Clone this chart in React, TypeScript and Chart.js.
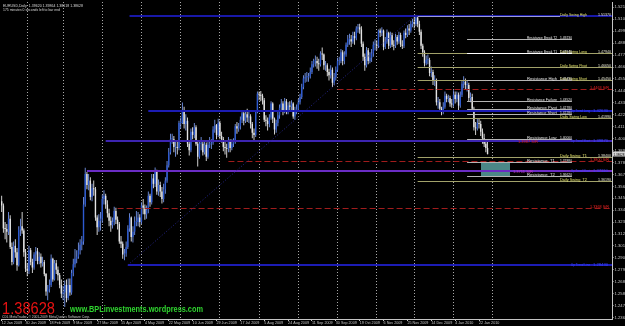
import React, { useEffect, useRef } from "react";
import { Chart, registerables } from "chart.js";
Chart.register(...registerables);

// ---------------- DATA ----------------
const firstOpen = 1.343;
const closes = [
  1.3390, 1.3180, 1.3175, 1.3150, 1.3270, 1.3010, 1.2870, 1.3020, 1.2960, 1.2840,
  1.3170, 1.3200, 1.3160, 1.2960, 1.2810, 1.2790, 1.2980, 1.2870, 1.2820, 1.2940,
  1.2970, 1.2880, 1.2920, 1.2860, 1.2870, 1.2760, 1.2600, 1.2620, 1.2660, 1.2900,
  1.2710, 1.2860, 1.2800, 1.2750, 1.2660, 1.2580, 1.2590, 1.2660, 1.2540, 1.2660,
  1.2590, 1.2770, 1.2850, 1.2900, 1.2920, 1.2980, 1.3030, 1.3060, 1.3400, 1.3680,
  1.3580, 1.3620, 1.3470, 1.3550, 1.3540, 1.3280, 1.3190, 1.3250, 1.3270, 1.3450,
  1.3480, 1.3400, 1.3320, 1.3250, 1.3210, 1.3240, 1.3340, 1.3260, 1.3220, 1.3060,
  1.3040, 1.2940, 1.2950, 1.3010, 1.3180, 1.3280, 1.3100, 1.3150, 1.3240, 1.3240,
  1.3280, 1.3240, 1.3390, 1.3370, 1.3310, 1.3350, 1.3480, 1.3420, 1.3640, 1.3590,
  1.3700, 1.3520, 1.3580, 1.3520, 1.3450, 1.3540, 1.3620, 1.3760, 1.3880, 1.4000,
  1.4000, 1.3930, 1.3930, 1.3920, 1.4150, 1.4150, 1.4270, 1.4140, 1.4170, 1.3960,
  1.3900, 1.4070, 1.4040, 1.4110, 1.3960, 1.3840, 1.3960, 1.3960, 1.3880, 1.3950,
  1.3840, 1.3950, 1.3960, 1.3970, 1.4090, 1.4130, 1.4040, 1.4150, 1.4030, 1.4000,
  1.3930, 1.3920, 1.3910, 1.3980, 1.3920, 1.3960, 1.3980, 1.4120, 1.4100, 1.4120,
  1.4180, 1.4240, 1.4170, 1.4230, 1.4200, 1.4210, 1.4140, 1.4060, 1.4040, 1.4250,
  1.4420, 1.4410, 1.4400, 1.4360, 1.4180, 1.4170, 1.4140, 1.4200, 1.4330, 1.4190,
  1.4090, 1.4150, 1.4220, 1.4290, 1.4330, 1.4270, 1.4350, 1.4260, 1.4310, 1.4300,
  1.4330, 1.4210, 1.4270, 1.4280, 1.4340, 1.4390, 1.4480, 1.4560, 1.4570, 1.4570,
  1.4580, 1.4620, 1.4690, 1.4720, 1.4720, 1.4700, 1.4690, 1.4790, 1.4780, 1.4680,
  1.4680, 1.4620, 1.4590, 1.4640, 1.4520, 1.4570, 1.4640, 1.4720, 1.4720, 1.4800,
  1.4720, 1.4780, 1.4870, 1.4920, 1.4920, 1.4900, 1.4950, 1.4930, 1.5020, 1.5030,
  1.5010, 1.4880, 1.4760, 1.4680, 1.4820, 1.4720, 1.4750, 1.4790, 1.4870, 1.4870,
  1.4860, 1.5000, 1.4980, 1.5000, 1.4850, 1.4900, 1.4980, 1.4860, 1.4960, 1.4870,
  1.4860, 1.4940, 1.4900, 1.4960, 1.4870, 1.4860, 1.4980, 1.4960, 1.5020, 1.5000,
  1.5060, 1.5080, 1.5060, 1.5120, 1.5060, 1.4990, 1.4860, 1.4800, 1.4700, 1.4730,
  1.4730, 1.4610, 1.4620, 1.4540, 1.4540, 1.4340, 1.4340, 1.4280, 1.4250, 1.4300,
  1.4400, 1.4370, 1.4380, 1.4330, 1.4320, 1.4410, 1.4370, 1.4410, 1.4310, 1.4410,
  1.4510, 1.4530, 1.4500, 1.4500, 1.4380, 1.4390, 1.4280, 1.4110, 1.4100, 1.4150,
  1.4140, 1.4070, 1.4010, 1.3960, 1.3920, 1.38628,
];
const highs = [
  1.3480, 1.3410, 1.3240, 1.3220, 1.3330, 1.3300, 1.3050, 1.3060, 1.3080, 1.3000,
  1.3200, 1.3270, 1.3330, 1.3180, 1.2990, 1.2860, 1.3020, 1.3000, 1.2900, 1.2960,
  1.3010, 1.3000, 1.2960, 1.2950, 1.2920, 1.2890, 1.2770, 1.2660, 1.2710, 1.2940,
  1.2910, 1.2890, 1.2890, 1.2830, 1.2770, 1.2710, 1.2650, 1.2700, 1.2710, 1.2720,
  1.2720, 1.2800, 1.2900, 1.2990, 1.2980, 1.3050, 1.3080, 1.3110, 1.3470, 1.3739,
  1.3700, 1.3680, 1.3650, 1.3590, 1.3620, 1.3560, 1.3300, 1.3310, 1.3330, 1.3490,
  1.3530, 1.3500, 1.3440, 1.3360, 1.3290, 1.3280, 1.3380, 1.3370, 1.3290, 1.3240,
  1.3110, 1.3060, 1.2990, 1.3060, 1.3210, 1.3320, 1.3290, 1.3200, 1.3290, 1.3340,
  1.3330, 1.3310, 1.3420, 1.3450, 1.3400, 1.3390, 1.3520, 1.3500, 1.3680, 1.3680,
  1.3740, 1.3720, 1.3630, 1.3610, 1.3560, 1.3590, 1.3650, 1.3800, 1.3920, 1.4050,
  1.4050, 1.4030, 1.3990, 1.3980, 1.4170, 1.4200, 1.4338, 1.4300, 1.4230, 1.4200,
  1.3990, 1.4100, 1.4110, 1.4150, 1.4130, 1.3980, 1.3990, 1.4020, 1.3980, 1.3980,
  1.3970, 1.3980, 1.4020, 1.4000, 1.4120, 1.4180, 1.4140, 1.4190, 1.4170, 1.4070,
  1.4020, 1.3990, 1.3960, 1.4020, 1.4000, 1.4000, 1.4010, 1.4140, 1.4160, 1.4150,
  1.4210, 1.4270, 1.4260, 1.4260, 1.4280, 1.4250, 1.4230, 1.4160, 1.4100, 1.4270,
  1.4440, 1.4440, 1.4445, 1.4420, 1.4380, 1.4220, 1.4200, 1.4230, 1.4350, 1.4340,
  1.4200, 1.4180, 1.4250, 1.4320, 1.4370, 1.4350, 1.4380, 1.4370, 1.4340, 1.4350,
  1.4360, 1.4340, 1.4300, 1.4320, 1.4370, 1.4420, 1.4510, 1.4590, 1.4610, 1.4620,
  1.4610, 1.4660, 1.4720, 1.4740, 1.4770, 1.4760, 1.4740, 1.4810, 1.4845, 1.4790,
  1.4720, 1.4700, 1.4650, 1.4680, 1.4660, 1.4610, 1.4670, 1.4750, 1.4760, 1.4830,
  1.4820, 1.4810, 1.4890, 1.4960, 1.4970, 1.4960, 1.4990, 1.4990, 1.5040, 1.5060,
  1.5062, 1.5040, 1.4900, 1.4790, 1.4850, 1.4840, 1.4800, 1.4830, 1.4900, 1.4920,
  1.4910, 1.5010, 1.5020, 1.5030, 1.5010, 1.4940, 1.5010, 1.4990, 1.4990, 1.4980,
  1.4910, 1.4970, 1.4960, 1.4990, 1.4980, 1.4910, 1.5000, 1.5020, 1.5050, 1.5060,
  1.5090, 1.5110, 1.5120, 1.5144, 1.5130, 1.5090, 1.5010, 1.4880, 1.4820, 1.4770,
  1.4780, 1.4750, 1.4670, 1.4640, 1.4590, 1.4560, 1.4390, 1.4370, 1.4300, 1.4340,
  1.4440, 1.4420, 1.4410, 1.4400, 1.4370, 1.4450, 1.4440, 1.4440, 1.4430, 1.4440,
  1.4540, 1.4580, 1.4560, 1.4540, 1.4520, 1.4430, 1.4420, 1.4300, 1.4160, 1.4190,
  1.4190, 1.4170, 1.4100, 1.4050, 1.3990, 1.3986,
];
const lows = [
  1.3330, 1.3140, 1.3080, 1.3050, 1.3120, 1.2990, 1.2840, 1.2850, 1.2910, 1.2790,
  1.2830, 1.3110, 1.3130, 1.2920, 1.2780, 1.2740, 1.2760, 1.2840, 1.2770, 1.2800,
  1.2880, 1.2850, 1.2850, 1.2820, 1.2830, 1.2740, 1.2560, 1.2520, 1.2590, 1.2640,
  1.2690, 1.2700, 1.2760, 1.2700, 1.2630, 1.2540, 1.2520, 1.2456, 1.2500, 1.2520,
  1.2560, 1.2570, 1.2740, 1.2820, 1.2860, 1.2900, 1.2940, 1.2980, 1.3030, 1.3380,
  1.3540, 1.3530, 1.3440, 1.3430, 1.3480, 1.3250, 1.3120, 1.3150, 1.3160, 1.3230,
  1.3400, 1.3360, 1.3280, 1.3200, 1.3150, 1.3180, 1.3210, 1.3220, 1.3170, 1.3040,
  1.3000, 1.2900, 1.2886, 1.2920, 1.2990, 1.3150, 1.3060, 1.3050, 1.3120, 1.3200,
  1.3200, 1.3190, 1.3220, 1.3310, 1.3260, 1.3270, 1.3320, 1.3380, 1.3400, 1.3550,
  1.3560, 1.3490, 1.3480, 1.3470, 1.3410, 1.3420, 1.3500, 1.3600, 1.3740, 1.3860,
  1.3960, 1.3880, 1.3840, 1.3860, 1.3900, 1.4100, 1.4140, 1.4100, 1.4080, 1.3930,
  1.3850, 1.3880, 1.4000, 1.4010, 1.3940, 1.3750, 1.3820, 1.3900, 1.3850, 1.3860,
  1.3800, 1.3820, 1.3920, 1.3910, 1.3950, 1.4060, 1.4000, 1.4020, 1.4000, 1.3970,
  1.3890, 1.3860, 1.3830, 1.3880, 1.3880, 1.3900, 1.3930, 1.3960, 1.4050, 1.4070,
  1.4090, 1.4150, 1.4130, 1.4150, 1.4160, 1.4150, 1.4100, 1.4010, 1.3990, 1.4020,
  1.4240, 1.4360, 1.4350, 1.4320, 1.4160, 1.4120, 1.4080, 1.4110, 1.4180, 1.4150,
  1.4045, 1.4060, 1.4120, 1.4190, 1.4260, 1.4220, 1.4240, 1.4230, 1.4230, 1.4260,
  1.4270, 1.4190, 1.4180, 1.4230, 1.4250, 1.4320, 1.4370, 1.4460, 1.4520, 1.4530,
  1.4530, 1.4560, 1.4600, 1.4660, 1.4670, 1.4650, 1.4630, 1.4670, 1.4730, 1.4640,
  1.4630, 1.4580, 1.4540, 1.4560, 1.4480, 1.4500, 1.4540, 1.4620, 1.4680, 1.4700,
  1.4680, 1.4690, 1.4760, 1.4850, 1.4870, 1.4850, 1.4880, 1.4870, 1.4910, 1.4980,
  1.4970, 1.4850, 1.4720, 1.4630, 1.4660, 1.4690, 1.4700, 1.4710, 1.4760, 1.4820,
  1.4820, 1.4840, 1.4940, 1.4950, 1.4820, 1.4830, 1.4880, 1.4830, 1.4840, 1.4850,
  1.4820, 1.4840, 1.4870, 1.4880, 1.4850, 1.4830, 1.4840, 1.4930, 1.4940, 1.4960,
  1.4980, 1.5030, 1.5020, 1.5040, 1.5030, 1.4960, 1.4830, 1.4760, 1.4670, 1.4680,
  1.4690, 1.4580, 1.4570, 1.4500, 1.4490, 1.4310, 1.4280, 1.4250, 1.4222, 1.4230,
  1.4280, 1.4340, 1.4340, 1.4300, 1.4290, 1.4300, 1.4330, 1.4340, 1.4270, 1.4290,
  1.4390, 1.4470, 1.4460, 1.4440, 1.4350, 1.4340, 1.4250, 1.4080, 1.4040, 1.4080,
  1.4100, 1.4030, 1.3960, 1.3930, 1.3880, 1.38618,
];

const dateLabels = [
  "12 Jan 2009", "30 Jan 2009", "18 Feb 2009", "9 Mar 2009", "27 Mar 2009", "15 Apr 2009",
  "4 May 2009", "22 May 2009", "10 Jun 2009", "29 Jun 2009", "17 Jul 2009", "5 Aug 2009",
  "24 Aug 2009", "11 Sep 2009", "30 Sep 2009", "19 Oct 2009", "6 Nov 2009", "25 Nov 2009",
  "14 Dec 2009", "4 Jan 2010", "22 Jan 2010",
];
const labelBars = [0, 14, 28, 42, 56, 70, 84, 98, 112, 126, 140, 154, 168, 182, 196, 210, 224, 238, 252, 266, 280];
const gridBars = [15, 36, 59, 82, 105, 128, 151, 174, 197, 220, 242, 265, 288];
const priceTicks = [
  1.5214, 1.5104, 1.4995, 1.4885, 1.4775, 1.4665, 1.4555, 1.4446, 1.4336, 1.4226,
  1.4116, 1.4007, 1.3897, 1.3787, 1.3677, 1.3567, 1.3458, 1.3348, 1.3238, 1.3128,
  1.3019, 1.2909, 1.2799, 1.2689, 1.258, 1.247, 1.236,
];
const priceMin = 1.23466;
const priceMax = 1.5263;
const lastPrice = 1.38628;
const headerLines = [
  "EURUSD,Daily  1.39620 1.39864 1.38618 1.38628",
  "175 minutes 0 seconds left to bar end",
];
const siteText = "www.BPLinvestments.wordpress.com";
const copyrightText = "CDL MetaTrader, \u00a9 2001-2009 MetaQuotes Software Corp.";

const swingNames = ["Daily Swing High", "Daily Swing Long", "Daily Swing Pivot", "Daily Swing Short", "Daily Swing Low", "Daily Swing  T1", "Daily Swing  T2"];
const swingPrices = [1.5137, 1.4794, 1.4665, 1.4545, 1.4199, 1.384, 1.3619];
const swingStartBar = 244;

const resistanceNames = ["Resistance Break T2", "Resistance Break T1", "Resistance High", "Resistance Failure", "Resistance Pivot", "Resistance Short", "Resistance Low", "Resistance  T1", "Resistance  T2"];
const resistancePrices = [1.4923, 1.4794, 1.4545, 1.4352, 1.4278, 1.4228, 1.4, 1.3788, 1.3662];
const resistanceStartBar = 273;
const resistanceEndBar = 334.5;

const trendNames = ["", "Up Trend Long", "Up Trend Short", "Up Trend Short", "Up Trend Line"];
const trendPrices = [1.5137, 1.4263, 1.3987, 1.3711, 1.2843];
const trendStartBars = [75, 86, 61, 50, 74];

const srPrices = [1.4463, 1.38, 1.3368];
const srStartBars = [197, 133, 68];
const srNotePrices = [1.3987, 1.3711];

const diagBars = [74, 243.5];
const diagPrices = [1.2843, 1.5153];

const zoneBars = [281, 298];
const zonePrices = [1.3788, 1.365];

// ---------------- STYLE ----------------
const S = {
  font: '"Liberation Sans", Arial, sans-serif',
  up: "#2d5ad0",
  upWick: "#7393e6",
  down: "#e4e4e4",
  axis: "#c4c4c4",
  grid: "#a8a8a8",
  swingLine: "#a2a26a",
  swingHigh: "#9a9ad8",
  swingText: "#e2e26a",
  swingValue: "#e6e6d2",
  resLine: "#b4b4b4",
  resBright: "#ffffff",
  resText: "#e8e8e8",
  trendColors: ["#1818a8", "#1c1cb4", "#3c24b0", "#6a2cc4", "#1c1cb4"],
  trendText: "#3a46ff",
  sr: "#a01c1c",
  srText: "#f02020",
  srNoteColors: ["#e02020", "#c83cc8"],
  diag: "#26268e",
  zone: "#4b8787",
};
// label columns in bar units
const COL = {
  swingName: 327.5,
  swingValue: 349.8,
  resName: 308.1,
  resValue: 327.5,
  trendName: 334,
  trendValue: 346.8,
  srLabel: 345.1,
  srNote: [302.8, 299.9],
};

const opens = closes.map((c, i) => (i === 0 ? firstOpen : closes[i - 1]));
const isUp = (i: number) => closes[i] >= opens[i];

function text(ctx: CanvasRenderingContext2D, s: string, x: number, y: number, color: string, size: number, maxW?: number, weight = "") {
  ctx.font = `${weight}${size}px ${S.font}`;
  ctx.fillStyle = color;
  ctx.textAlign = "left";
  ctx.textBaseline = "alphabetic";
  if (maxW) ctx.fillText(s, x, y, maxW);
  else ctx.fillText(s, x, y);
}

const overlay = {
  id: "mtOverlay",
  beforeDraw(chart: any) {
    const { ctx, width, height } = chart;
    ctx.save();
    ctx.fillStyle = "#000";
    ctx.fillRect(0, 0, width, height);
    ctx.restore();
  },
  beforeDatasetsDraw(chart: any) {
    const { ctx, chartArea: a } = chart;
    const xs = chart.scales.x, ys = chart.scales.y;
    ctx.save();
    ctx.beginPath();
    ctx.rect(a.left, a.top, a.right - a.left, a.bottom - a.top);
    ctx.clip();
    const x1 = xs.getPixelForValue(zoneBars[0]);
    const x2 = xs.getPixelForValue(zoneBars[1]);
    const y1 = ys.getPixelForValue(zonePrices[0]);
    const y2 = ys.getPixelForValue(zonePrices[1]);
    ctx.fillStyle = S.zone;
    ctx.fillRect(Math.round(x1), Math.round(y1), Math.round(x2 - x1), Math.round(y2 - y1));
    ctx.restore();
  },
  afterDatasetsDraw(chart: any) {
    const { ctx, chartArea: a } = chart;
    const xs = chart.scales.x, ys = chart.scales.y;
    const X = (v: number) => xs.getPixelForValue(v);
    const Y = (p: number) => ys.getPixelForValue(p);
    const hline = (b0: number, b1: number | null, p: number, color: string, w: number, dash: number[] = []) => {
      const y = w % 2 === 1 ? Math.round(Y(p)) + 0.5 : Math.round(Y(p));
      ctx.beginPath();
      ctx.setLineDash(dash);
      ctx.strokeStyle = color;
      ctx.lineWidth = w;
      ctx.moveTo(X(b0), y);
      ctx.lineTo(b1 === null ? a.right : X(b1), y);
      ctx.stroke();
      ctx.setLineDash([]);
    };
    ctx.save();
    ctx.beginPath();
    ctx.rect(a.left, a.top, a.right - a.left, a.bottom - a.top);
    ctx.clip();

    trendPrices.forEach((p, k) => hline(trendStartBars[k], null, p, S.trendColors[k], 2));
    srPrices.forEach((p, k) => hline(srStartBars[k], null, p, S.sr, 1, [6, 3]));
    ctx.beginPath();
    ctx.setLineDash([1, 2]);
    ctx.strokeStyle = S.diag;
    ctx.lineWidth = 1;
    ctx.moveTo(X(diagBars[0]), Y(diagPrices[0]));
    ctx.lineTo(X(diagBars[1]), Y(diagPrices[1]));
    ctx.stroke();
    ctx.setLineDash([]);
    swingPrices.forEach((p, k) => hline(swingStartBar, k === 0 ? COL.swingName : null, p, k === 0 ? S.swingHigh : S.swingLine, 1));
    resistancePrices.forEach((p, k) => hline(resistanceStartBar, resistanceEndBar, p, k === 1 ? S.resBright : S.resLine, 1));

    const fs = 4.2;
    swingPrices.forEach((p, k) => {
      const y = Math.round(Y(p)) - 0.5;
      text(ctx, swingNames[k], X(COL.swingName), y, S.swingText, fs, 27);
      text(ctx, p.toFixed(5), X(COL.swingValue), y, S.swingValue, fs, 13);
    });
    resistancePrices.forEach((p, k) => {
      const y = Math.round(Y(p)) - 0.5;
      text(ctx, resistanceNames[k], X(COL.resName), y, S.resText, fs, 30);
      text(ctx, p.toFixed(5), X(COL.resValue), y, S.resText, fs, 12);
    });
    trendPrices.forEach((p, k) => {
      if (!trendNames[k]) return;
      const y = Math.round(Y(p)) + 1;
      text(ctx, trendNames[k], X(COL.trendName), y, S.trendText, fs, 19);
      text(ctx, p.toFixed(5), X(COL.trendValue), y, S.trendText, fs, 16);
    });
    srPrices.forEach((p) => {
      const y = Math.round(Y(p)) - 0.5;
      text(ctx, p.toFixed(4) + " S/R", X(COL.srLabel), y, S.srText, fs, 19);
    });
    srNotePrices.forEach((p, k) => {
      const y = Math.round(Y(p)) + 1.5;
      text(ctx, p.toFixed(4) + " S/R", X(COL.srNote[k]), y, S.srNoteColors[k], fs, 20);
    });
    ctx.restore();
  },
  afterDraw(chart: any) {
    const { ctx, chartArea: a } = chart;
    const ys = chart.scales.y;
    ctx.save();
    text(ctx, headerLines[0], a.left + 2, a.top + 4.5, "#d8d8d8", 4.2, 80);
    text(ctx, headerLines[1], a.left + 2, a.top + 8.5, "#d8d8d8", 3.8, 57);
    ctx.save();
    ctx.translate(a.left + 1, a.bottom - 5);
    ctx.scale(1, 1.15);
    text(ctx, lastPrice.toFixed(5), 0, 0, "#e81212", 15, 53);
    ctx.restore();
    text(ctx, siteText, a.left + 69, a.bottom - 7, "#2fd42f", 9, 133, "bold ");
    text(ctx, copyrightText, a.left + 1, a.bottom - 1.5, "#c8c8c8", 3.4, 88);
    const y = Math.round(ys.getPixelForValue(lastPrice));
    ctx.fillStyle = "#d4d4d4";
    ctx.fillRect(a.right + 1, y - 2.5, 12, 5);
    text(ctx, lastPrice.toFixed(5), a.right + 1.5, y + 1.6, "#000", 4.2, 11);
    ctx.restore();
  },
};

export default function App() {
  const ref = useRef<HTMLCanvasElement>(null);
  useEffect(() => {
    const chart = new Chart(ref.current as HTMLCanvasElement, {
      type: "bar",
      data: {
        datasets: [
          {
            label: "body",
            data: closes.map((c, i) => ({ x: i, y: [opens[i], c] })),
            backgroundColor: (c: any) => (isUp(c.dataIndex) ? S.up : S.down),
            barThickness: 1.4,
            minBarLength: 1,
            grouped: false,
            inflateAmount: 0,
            borderWidth: 0,
            order: 0,
          } as any,
          {
            label: "wick",
            data: closes.map((c, i) => ({ x: i, y: [lows[i], highs[i]] })),
            backgroundColor: (c: any) => (isUp(c.dataIndex) ? S.upWick : S.down),
            barThickness: 0.9,
            grouped: false,
            inflateAmount: 0,
            borderWidth: 0,
            order: 1,
          } as any,
        ],
      },
      options: {
        animation: false,
        responsive: false,
        devicePixelRatio: 1,
        events: [],
        layout: { padding: { left: 1, top: 2, right: 0, bottom: 0 } },
        plugins: { legend: { display: false }, tooltip: { enabled: false } },
        scales: {
          x: {
            type: "linear",
            position: "bottom",
            offset: false,
            min: -0.4,
            max: 358,
            afterBuildTicks: (s: any) => {
              s.ticks = labelBars.map((v) => ({ value: v }));
            },
            afterFit: (s: any) => {
              s.height = 7;
              s.paddingLeft = 0;
              s.paddingRight = 0;
            },
            ticks: {
              autoSkip: false,
              maxRotation: 0,
              minRotation: 0,
              align: "start",
              padding: 0,
              color: S.axis,
              font: { size: 3.7, family: "Liberation Sans" },
              callback: (v: any) => {
                const k = labelBars.indexOf(Number(v));
                return k >= 0 ? dateLabels[k] : "";
              },
            },
            grid: { display: true, offset: false, drawOnChartArea: false, drawTicks: true, tickLength: 2, color: S.axis },
            border: { display: true, color: S.axis },
          },
          xg: {
            type: "linear",
            position: "top",
            offset: false,
            min: -0.4,
            max: 358,
            afterBuildTicks: (s: any) => {
              s.ticks = gridBars.map((v) => ({ value: v }));
            },
            afterFit: (s: any) => {
              s.height = 0;
              s.paddingLeft = 0;
              s.paddingRight = 0;
            },
            ticks: { display: false },
            grid: { display: true, offset: false, drawOnChartArea: true, drawTicks: false, color: S.grid, lineWidth: 1 },
            border: { display: false, dash: [1, 2] },
          },
          y: {
            type: "linear",
            position: "right",
            min: priceMin,
            max: priceMax,
            afterBuildTicks: (s: any) => {
              s.ticks = priceTicks.map((v) => ({ value: v }));
            },
            afterFit: (s: any) => {
              s.width = 13;
              s.paddingTop = 0;
              s.paddingBottom = 0;
            },
            ticks: {
              padding: 1,
              color: S.axis,
              font: { size: 4.2, family: "Liberation Sans" },
              callback: (v: any) => Number(v).toFixed(5),
            },
            grid: { display: true, drawOnChartArea: false, drawTicks: true, tickLength: 1.5, color: S.axis },
            border: { display: true, color: S.axis },
          },
        },
      } as any,
      plugins: [overlay],
    });
    return () => chart.destroy();
  }, []);
  return (
    <div style={{ position: "fixed", left: 0, top: 0, width: 625, height: 326, background: "#000" }}>
      <canvas ref={ref} width={625} height={326} style={{ display: "block", width: 625, height: 326 }} />
    </div>
  );
}
